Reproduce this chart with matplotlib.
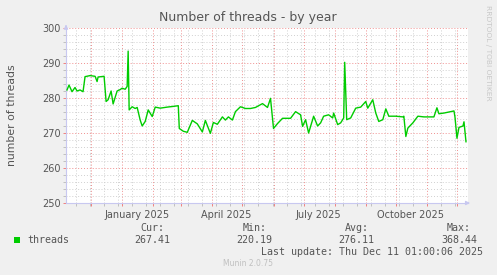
import numpy as np
import pandas as pd
import matplotlib
matplotlib.use('Agg')
import matplotlib.pyplot as plt
import matplotlib.dates as mdates
from matplotlib.ticker import MultipleLocator, FixedLocator

# values
dates = ['2024-11-07', '2024-11-09', '2024-11-12', '2024-11-15', '2024-11-17', '2024-11-20',
         '2024-11-23', '2024-11-25', '2024-11-30', '2024-12-05', '2024-12-07', '2024-12-08',
         '2024-12-14', '2024-12-16', '2024-12-18', '2024-12-21', '2024-12-23', '2024-12-27',
         '2024-12-30', '2025-01-01', '2025-01-04', '2025-01-06', '2025-01-07', '2025-01-08',
         '2025-01-11', '2025-01-14', '2025-01-16', '2025-01-19', '2025-01-21', '2025-01-24',
         '2025-01-27', '2025-01-31', '2025-02-03', '2025-02-08', '2025-02-15', '2025-02-21',
         '2025-02-26', '2025-02-27', '2025-03-03', '2025-03-07', '2025-03-12', '2025-03-17',
         '2025-03-22', '2025-03-25', '2025-03-30', '2025-04-02', '2025-04-06', '2025-04-11',
         '2025-04-14', '2025-04-17', '2025-04-21', '2025-04-24', '2025-04-29', '2025-05-04',
         '2025-05-09', '2025-05-14', '2025-05-21', '2025-05-26', '2025-05-29', '2025-06-01',
         '2025-06-05', '2025-06-10', '2025-06-18', '2025-06-23', '2025-06-28', '2025-06-30',
         '2025-07-03', '2025-07-06', '2025-07-10', '2025-07-11', '2025-07-15', '2025-07-18',
         '2025-07-21', '2025-07-26', '2025-07-30', '2025-07-31', '2025-08-04', '2025-08-07',
         '2025-08-10', '2025-08-11', '2025-08-13', '2025-08-17', '2025-08-22', '2025-08-27',
         '2025-09-01', '2025-09-03', '2025-09-08', '2025-09-11', '2025-09-14', '2025-09-18',
         '2025-09-21', '2025-09-24', '2025-10-01', '2025-10-08', '2025-10-09', '2025-10-11',
         '2025-10-13', '2025-10-18', '2025-10-23', '2025-10-29', '2025-11-08', '2025-11-11',
         '2025-11-13', '2025-11-18', '2025-11-23', '2025-11-28', '2025-11-29', '2025-12-01',
         '2025-12-03', '2025-12-07', '2025-12-08', '2025-12-10']
threads = [282.3, 283.7, 281.8, 283.0, 282.0, 282.3,
           281.8, 286.1, 286.4, 286.2, 284.7, 286.0,
           286.2, 279.0, 279.5, 282.0, 278.3, 282.0,
           282.4, 282.8, 282.5, 283.3, 293.4, 276.6,
           277.5, 277.0, 277.3, 273.7, 272.0, 273.3,
           276.6, 274.7, 277.4, 277.1, 277.4, 277.6,
           277.8, 271.3, 270.5, 270.2, 273.6, 272.6,
           270.3, 273.6, 269.9, 273.0, 272.5, 274.6,
           273.7, 274.6, 273.7, 276.1, 277.5, 277.0,
           277.0, 277.3, 278.4, 277.3, 279.9, 271.3,
           272.7, 274.2, 274.2, 276.1, 275.2, 271.9,
           273.8, 270.0, 273.8, 274.8, 272.0, 272.9,
           274.8, 275.2, 274.3, 275.7, 272.4, 272.9,
           274.3, 290.2, 273.8, 274.3, 277.1, 277.4,
           279.0, 277.1, 279.5, 275.7, 273.3, 273.8,
           276.9, 274.8, 274.8, 274.6, 274.8, 269.0,
           271.4, 272.9, 274.8, 274.6, 274.6, 277.2,
           275.5, 275.7, 276.0, 276.3, 274.6, 268.5,
           271.6, 272.0, 273.2, 267.5]

month_labels = ['January 2025', 'April 2025', 'July 2025', 'October 2025']
label_dates = ['2025-01-16', '2025-04-15', '2025-07-16', '2025-10-16']
stat_names = ['Cur:', 'Min:', 'Avg:', 'Max:']
stat_values = ['267.41', '220.19', '276.11', '368.44']

bg = '#F0F0F0'
txt = '#555555'
axis_col = '#C8C8F0'

fig = plt.figure(figsize=(4.97, 2.75), dpi=100, facecolor=bg)
ax = fig.add_axes([66/497, 72/275, 402/497, 175/275])
ax.set_facecolor('white')

x = pd.to_datetime(dates)
ax.plot(x, threads, color='#00CC00', lw=1.0, zorder=3)

ax.set_xlim(pd.Timestamp('2024-11-06'), pd.Timestamp('2025-12-12'))
ax.set_ylim(250, 300)

# grid: red at months / tens, grey at two weeks / twos
ax.xaxis.set_major_locator(mdates.MonthLocator())
ax.xaxis.set_minor_locator(FixedLocator(mdates.date2num(pd.date_range('2024-11-16', '2025-12-12', freq='14D'))))
ax.yaxis.set_major_locator(MultipleLocator(10))
ax.yaxis.set_minor_locator(MultipleLocator(2))
ax.grid(which='minor', color='#D0D0D0', ls=(0, (1, 2)), lw=0.7, zorder=1)
ax.grid(which='major', color='#F09090', ls=(0, (1, 2)), lw=0.7, zorder=2)
ax.set_xticklabels([])
ax.tick_params(which='major', length=2, color='#F08080', width=0.7)
ax.tick_params(which='minor', length=2, color='#C0C0C0', width=0.7)
ax.tick_params(axis='y', labelsize=7, labelcolor=txt, pad=2)

for lab, d in zip(month_labels, label_dates):
    ax.text(pd.Timestamp(d), -0.04, lab, transform=ax.get_xaxis_transform(),
            ha='center', va='top', fontsize=7, color=txt)

for s in ['top', 'right']:
    ax.spines[s].set_visible(False)
for s in ['left', 'bottom']:
    ax.spines[s].set_color(axis_col)
    ax.spines[s].set_linewidth(0.8)

# axis arrows
ax.annotate('', xy=(1.012, 0), xytext=(0.99, 0), xycoords='axes fraction',
            arrowprops=dict(arrowstyle='-|>', color=axis_col, lw=0.8, mutation_scale=6),
            annotation_clip=False)
ax.annotate('', xy=(0, 1.035), xytext=(0, 0.99), xycoords='axes fraction',
            arrowprops=dict(arrowstyle='-|>', color=axis_col, lw=0.8, mutation_scale=6),
            annotation_clip=False)

ax.set_ylabel('number of threads', fontsize=7.8, color=txt)
ax.yaxis.set_label_coords(-49/402, 0.5)

fig.text(248/497, 1 - 18/275, 'Number of threads - by year', ha='center', va='center',
         fontsize=9, color=txt)
fig.text(488/497, 1 - 5/275, 'RRDTOOL / TOBI OETIKER', rotation=270, ha='center', va='top',
         fontsize=5.4, color='#C8C8C8')

# legend area
mono = 'DejaVu Sans Mono'
fig.patches.append(plt.Rectangle((14/497, 1 - 243/275), 6/497, 6/275, transform=fig.transFigure,
                                 facecolor='#00CC00', edgecolor='none'))
fig.text(27/497, 1 - 240/275, 'threads', ha='left', va='center', fontsize=7.2,
         family=mono, color=txt)
for i, (n, v) in enumerate(zip(stat_names, stat_values)):
    cx = (152 + i * 102.3) / 497
    fig.text(cx, 1 - 228/275, n, ha='center', va='center', fontsize=7.2, family=mono, color=txt)
    fig.text(cx, 1 - 240/275, v, ha='center', va='center', fontsize=7.2, family=mono, color=txt)
fig.text(483/497, 1 - 252/275, 'Last update: Thu Dec 11 01:00:06 2025', ha='right', va='center',
         fontsize=7.2, family=mono, color=txt)
fig.text(248/497, 1 - 264/275, 'Munin 2.0.75', ha='center', va='center', fontsize=5.5,
         color='#C0C0C0')

fig.savefig('out.png', dpi=100, facecolor=bg)
